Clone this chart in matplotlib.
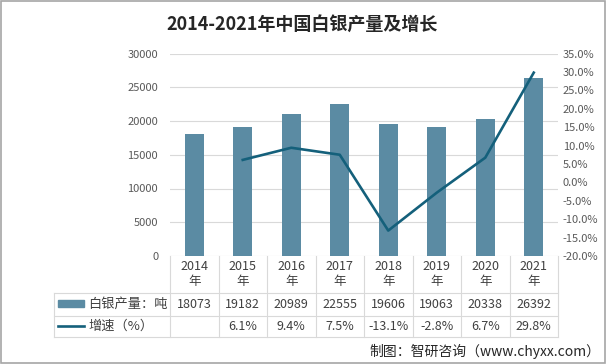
import matplotlib
matplotlib.use('Agg')
import matplotlib.pyplot as plt
from matplotlib.patches import Rectangle
from matplotlib.lines import Line2D
import numpy as np

plt.rcParams['font.family'] = ['Noto Sans CJK SC', 'DejaVu Sans']

years = ['2014', '2015', '2016', '2017', '2018', '2019', '2020', '2021']
output = [18073, 19182, 20989, 22555, 19606, 19063, 20338, 26392]
growth = [np.nan, 6.1, 9.4, 7.5, -13.1, -2.8, 6.7, 29.8]
growth_labels = ['', '6.1%', '9.4%', '7.5%', '-13.1%', '-2.8%', '6.7%', '29.8%']

title = '2014-2021年中国白银产量及增长'
series_names = ['白银产量：吨', '增速（%）']
source = '制图：智研咨询（www.chyxx.com）'

bar_color = '#5b8ba3'
line_color = '#14607b'
grid_color = '#d9d9d9'
text_color = '#404040'

W, H = 606, 364
fig = plt.figure(figsize=(W / 100, H / 100), dpi=100)
top_px, bot_px = 53.5, 256
left_px, right_px = 170, 558
ax = fig.add_axes([left_px / W, 1 - bot_px / H, (right_px - left_px) / W, (bot_px - top_px) / H])

x = np.arange(len(years))
ax.bar(x, output, width=0.4, color=bar_color, zorder=2)
ax.set_xlim(-0.5, len(years) - 0.5)
ax.set_ylim(0, 30000)
ax.set_yticks(range(0, 30001, 5000))
ax.grid(axis='y', color=grid_color, linewidth=0.8, zorder=0)
ax.set_xticks([])
ax.tick_params(axis='y', length=0, pad=8.5, labelsize=8, labelcolor='#595959')
for s in ax.spines.values():
    s.set_visible(False)

ax2 = ax.twinx()
ax2.plot(x, growth, color=line_color, linewidth=1.9, zorder=3)
ax2.set_ylim(-20, 35)
ax2.set_yticks(range(-20, 36, 5))
ax2.set_yticklabels(['%.1f%%' % v for v in range(-20, 36, 5)])
ax2.tick_params(axis='y', length=0, pad=3.5, labelsize=8, labelcolor='#595959')
for s in ax2.spines.values():
    s.set_visible(False)

# data table under the chart
col_w = (right_px - left_px) / len(years)
trans = ax.get_xaxis_transform()
ah = bot_px - top_px


def ay(py):
    return (bot_px - py) / ah


def dx(px):
    return -0.5 - (left_px - px) / col_w


row_lines = [293.3, 315.7, 337.3]
x_label_left = dx(54.3)
for py in row_lines:
    ax.add_line(Line2D([x_label_left, len(years) - 0.5], [ay(py)] * 2, transform=trans,
                       color=grid_color, linewidth=0.8, clip_on=False))
for k in range(len(years) + 1):
    ax.add_line(Line2D([k - 0.5] * 2, [ay(bot_px), ay(337.3)], transform=trans,
                       color=grid_color, linewidth=0.8, clip_on=False))
ax.add_line(Line2D([x_label_left] * 2, [ay(293.3), ay(337.3)], transform=trans,
                   color=grid_color, linewidth=0.8, clip_on=False))

for i, yr in enumerate(years):
    ax.text(i, ay(274), yr + '\n年', transform=trans, ha='center', va='center',
            fontsize=9, color=text_color, linespacing=1.25, clip_on=False)
    ax.text(i, ay(304.5), str(output[i]), transform=trans, ha='center', va='center',
            fontsize=9, color=text_color, clip_on=False)
    ax.text(i, ay(326.5), growth_labels[i], transform=trans, ha='center', va='center',
            fontsize=9, color=text_color, clip_on=False)

ax.add_patch(Rectangle((dx(58), ay(306.5)), dx(84) - dx(58), ay(300) - ay(306.5),
                       transform=trans, color=bar_color, clip_on=False))
ax.add_line(Line2D([dx(58), dx(84)], [ay(326)] * 2, transform=trans,
                   color=line_color, linewidth=1.9, clip_on=False))
ax.text(dx(88), ay(304.5), series_names[0], transform=trans, ha='left', va='center',
        fontsize=9.5, color=text_color, clip_on=False)
ax.text(dx(88), ay(326.5), series_names[1], transform=trans, ha='left', va='center',
        fontsize=9.5, color=text_color, clip_on=False)

fig.text(302 / W, 1 - 24 / H, title, ha='center', va='center', fontsize=13,
         fontweight='bold', color='#262626')
fig.text(600 / W, 1 - 351 / H, source, ha='right', va='center', fontsize=10, color='#262626')

fig.add_artist(Rectangle((0.002, 0.004), 0.996, 0.993, transform=fig.transFigure,
                         fill=False, edgecolor='#a6a6a6', linewidth=1.2))

fig.savefig('out.png', dpi=100)
